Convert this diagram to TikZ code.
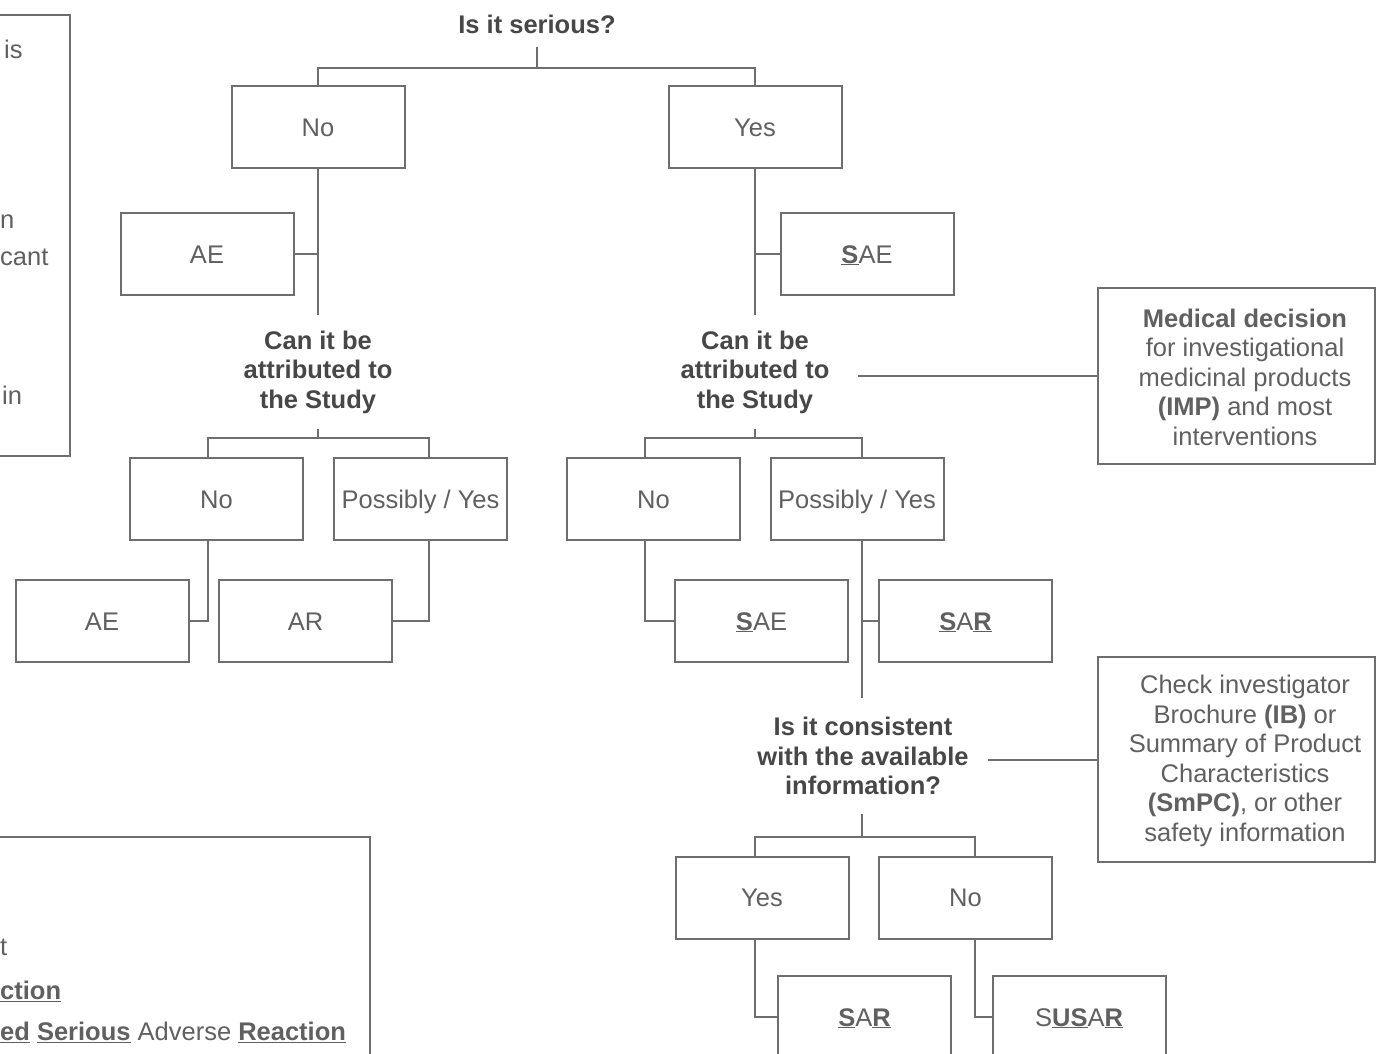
\documentclass[tikz,border=0pt]{standalone}
\usepackage{fontspec}
\setmainfont{Liberation Sans}
\definecolor{ln}{HTML}{6E6E6E}
\definecolor{tx}{HTML}{606060}
\definecolor{bt}{HTML}{474747}
\newcommand\fsz{\fontsize{25.5}{29.5}\selectfont}
\newcommand\ub[1]{\underline{\textbf{#1}}}
\begin{document}
\begin{tikzpicture}[x=1pt,y=-1pt,
  box/.style={draw=ln,line width=2pt,minimum width=173pt,minimum height=82pt,inner sep=0pt,text=tx,font=\fsz,text height=18pt,text depth=0pt},
  qtext/.style={align=center,font=\fsz\bfseries,text=bt,inner sep=0pt},
  con/.style={draw=ln,line width=2pt},
  legend/.style={anchor=west,inner sep=0pt,font=\fsz,text=tx},
  sidebox/.style={draw=ln,line width=2pt,minimum width=277pt,inner sep=0pt},
  sidetext/.style={align=center,font=\fsz,text=tx,inner sep=0pt},
  ]
\fill[white] (0,0) rectangle (1376,1054);
\useasboundingbox (0,0) rectangle (1376,1054);
\clip (0,0) rectangle (1376,1054);

% partial legend boxes
\draw[con] (-50,15) rectangle (70,456);
\node[legend] (lg1) at (4,49) {is};
\node[legend] (lg2) at (0,222) {n};
\node[legend] (lg3) at (0,257) {cant};
\node[legend] (lg4) at (2,395) {in};
\draw[con] (-50,837) rectangle (370,1100);
\node[legend] (lg5) at (0,947) {t};
\node[legend] (lg6) at (0,991) {\ub{ction}};
\node[legend] (lg7) at (0,1032) {\ub{ed} \ub{Serious} Adverse \ub{Reaction}};

% nodes
\node[qtext] (serious) at (537,24) {Is it serious?};
\node[box] (no1) at (318,127) {No};
\node[box] (yes1) at (755,127) {Yes};
\node[box] (ae1) at (207,254) {AE};
\node[box] (sae1) at (867,254) {\ub{S}AE};
\node[qtext] (q1l) at (318,372) {Can it be\\attributed to\\the Study};
\node[qtext] (q1r) at (755,372) {Can it be\\attributed to\\the Study};
\node[box] (no2l) at (216.5,499) {No};
\node[box] (posl) at (420.5,499) {Possibly / Yes};
\node[box] (ae2) at (102,621) {AE};
\node[box] (ar2) at (305.5,621) {AR};
\node[box] (no2r) at (653.5,499) {No};
\node[box] (posr) at (857,499) {Possibly / Yes};
\node[box] (sae2) at (761.5,621) {\ub{S}AE};
\node[box] (sar2) at (965.5,621) {\ub{S}A\ub{R}};
\node[qtext] (q2) at (863,756) {Is it consistent\\with the available\\information?};
\node[box] (yes3) at (762,897.5) {Yes};
\node[box] (no3) at (965.5,897.5) {No};
\node[box] (sar3) at (864.5,1017) {\ub{S}A\ub{R}};
\node[box] (susar3) at (1079,1017) {S\ub{US}A\ub{R}};

\node[sidebox,minimum height=176pt] (medbox) at (1236.5,376) {};
\node[sidetext] (medtext) at (1245,377) {\textbf{Medical decision}\\for investigational\\medicinal products\\\textbf{(IMP)} and most\\interventions};
\node[sidebox,minimum height=205pt] (chkbox) at (1236.5,759.5) {};
\node[sidetext] (chktext) at (1245,761) {Check investigator\\Brochure \textbf{(IB)} or\\Summary of Product\\Characteristics\\\textbf{(SmPC)}, or other\\safety information};

% coordinates
\coordinate (t1) at (537,47);
\coordinate (j1) at (537,68);
\coordinate (e1) at (318,315);
\coordinate (e2) at (755,315);
\coordinate (t2) at (318,429);
\coordinate (j2) at (318,438);
\coordinate (t3) at (755,429);
\coordinate (j3) at (755,438);
\coordinate (e3) at (862,698);
\coordinate (m1) at (858,376);
\coordinate (m2) at (988,759.5);
\coordinate (t4) at (862,814);
\coordinate (j4) at (862,837);

% connectors
\draw[con] (t1) -- (j1);
\draw[con] (no1.north) |- (j1) -| (yes1.north);
\draw[con] (no1.south) -- (e1);
\draw[con] (ae1.east) -- (ae1.east -| no1.south);
\draw[con] (yes1.south) -- (e2);
\draw[con] (sae1.west) -- (sae1.west -| yes1.south);

\draw[con] (t2) -- (j2);
\draw[con] ([xshift=-8.5pt]no2l.north) |- (j2) -| ([xshift=8.5pt]posl.north);
\draw[con] ([xshift=-8.5pt]no2l.south) |- (ae2.east);
\draw[con] ([xshift=8.5pt]posl.south) |- (ar2.east);

\draw[con] (t3) -- (j3);
\draw[con] ([xshift=-8.5pt]no2r.north) |- (j3) -| ([xshift=5pt]posr.north);
\draw[con] ([xshift=-8.5pt]no2r.south) |- (sae2.west);
\draw[con] ([xshift=5pt]posr.south) -- (e3);
\draw[con] (sar2.west) -- (sar2.west -| e3);

\draw[con] (m1) -- (medbox.west);
\draw[con] (m2) -- (chkbox.west);

\draw[con] (t4) -- (j4);
\draw[con] ([xshift=-7pt]yes3.north) |- (j4) -| ([xshift=9.5pt]no3.north);
\draw[con] ([xshift=-7pt]yes3.south) |- (sar3.west);
\draw[con] ([xshift=9.5pt]no3.south) |- (susar3.west);
\end{tikzpicture}
\end{document}
